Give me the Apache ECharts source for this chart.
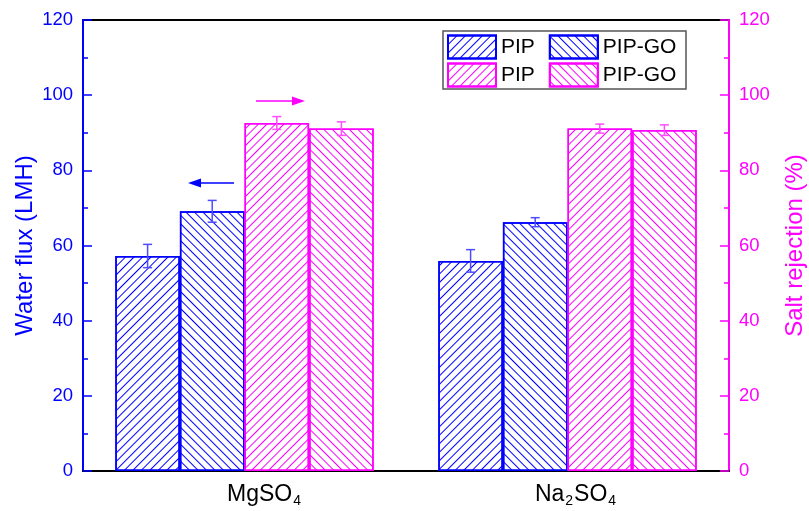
<!DOCTYPE html>
<html><head><meta charset="utf-8">
<script src="https://cdn.jsdelivr.net/npm/echarts@6/dist/echarts.min.js"></script>
<style>html,body{margin:0;padding:0;background:#fff}#c{width:809px;height:511px}</style>
</head><body><div id="c"></div>
<script>
const categories = ['MgSO4', 'Na2SO4'];
const fluxPIP = [57.2, 55.9];
const fluxPIPErr = [3.1, 3.0];
const fluxPIPGO = [69.1, 66.2];
const fluxPIPGOErr = [2.9, 1.2];
const rejPIP = [92.6, 91.1];
const rejPIPErr = [1.7, 1.2];
const rejPIPGO = [91.1, 90.7];
const rejPIPGOErr = [1.8, 1.4];
const yTicks = [0, 20, 40, 60, 80, 100, 120];

const BLUE = '#0000ff', PINK = '#ff00ff';
const FONT = 'Liberation Sans, Arial, sans-serif';

function decal(color, dir) {
  return { symbol: 'rect', symbolSize: 1, dashArrayX: [1, 0], dashArrayY: [1, 4.2],
           rotation: dir * Math.PI / 4, color: color, backgroundColor: null };
}
function barSeries(name, data, color, dir, yIdx) {
  return { name: name, type: 'bar', yAxisIndex: yIdx, data: data, barGap: '0%', barCategoryGap: '20%',
    itemStyle: { color: '#fff', borderColor: color, borderWidth: 1.5, decal: decal(color, dir) },
    emphasis: { disabled: true } };
}
function errSeries(vals, errs, k, color, yIdx) {
  return { type: 'custom', yAxisIndex: yIdx, silent: true, z: 5,
    data: vals.map((v, i) => [i, v, errs[i]]),
    renderItem: function (params, api) {
      const c = api.value(0), v = api.value(1), e = api.value(2);
      const band = api.size([1, 0])[0];
      const bw = band * 0.8 / 4;
      const base = api.coord([c, v]);
      const cx = base[0] + (k - 1.5) * bw;
      const hi = api.coord([c, v + e])[1];
      const lo = api.coord([c, v - e])[1];
      const cap = 4.5;
      const st = { stroke: color, lineWidth: 1.5 };
      return { type: 'group', children: [
        { type: 'line', shape: { x1: cx, y1: hi, x2: cx, y2: lo }, style: st },
        { type: 'line', shape: { x1: cx - cap, y1: hi, x2: cx + cap, y2: hi }, style: st },
        { type: 'line', shape: { x1: cx - cap, y1: lo, x2: cx + cap, y2: lo }, style: st }
      ] };
    } };
}
function yAxis(pos, color, name) {
  return { type: 'value', position: pos, min: yTicks[0], max: yTicks[yTicks.length - 1], interval: 20,
    name: name, nameLocation: 'middle', nameRotate: 90, nameGap: pos === 'left' ? 46 : 54, nameMoveOverlap: false,
    nameTextStyle: { color: color, fontSize: 24, fontFamily: FONT },
    axisLine: { show: true, lineStyle: { color: color, width: 2 } },
    axisTick: { show: true, inside: true, length: 9, lineStyle: { color: color, width: 1.5 } },
    minorTick: { show: true, splitNumber: 2, length: 5, lineStyle: { color: color, width: 1.5 } },
    axisLabel: { color: color, fontSize: 18.5, fontFamily: FONT, margin: 10 },
    splitLine: { show: false } };
}

const chart = echarts.init(document.getElementById('c'), null, { renderer: 'canvas' });
chart.setOption({
  animation: false,
  backgroundColor: '#fff',
  grid: { left: 83, right: 80, top: 20, bottom: 40, containLabel: false, outerBoundsMode: 'none',
          show: true, borderColor: '#000', borderWidth: 2, backgroundColor: 'transparent' },
  xAxis: { type: 'category', data: categories,
    axisLine: { lineStyle: { color: '#000', width: 2 } }, axisTick: { show: false },
    axisLabel: { margin: 11, fontFamily: FONT,
      formatter: function (v) {
        if (v === 'MgSO4') return '{g1|}{a|MgSO}{s|4}';
        return '{g2|}{a|Na}{s|2}{a|SO}{s|4}';
      },
      rich: { a: { fontSize: 23, color: '#000', fontFamily: FONT, height: 26 },
              s: { fontSize: 14, color: '#000', fontFamily: FONT, padding: [12, 1, 0, 1] },
              g1: { width: 40 }, g2: { width: 17 } } } },
  yAxis: [yAxis('left', BLUE, 'Water flux (LMH)'), yAxis('right', PINK, 'Salt rejection (%)')],
  legend: [
    { data: ['PIP#f', 'PIP-GO#f'], left: 447, top: 34.5, padding: 0, itemWidth: 48, itemHeight: 23, itemGap: 14,
      icon: 'rect', selectedMode: false, formatter: n => n.split('#')[0],
      textStyle: { fontSize: 21, color: '#000', fontFamily: FONT } },
    { data: ['PIP#r', 'PIP-GO#r'], left: 447, top: 62.5, padding: 0, itemWidth: 48, itemHeight: 23, itemGap: 14,
      icon: 'rect', selectedMode: false, formatter: n => n.split('#')[0],
      textStyle: { fontSize: 21, color: '#000', fontFamily: FONT } }
  ],
  series: [
    barSeries('PIP#f', fluxPIP, BLUE, -1, 0),
    barSeries('PIP-GO#f', fluxPIPGO, BLUE, 1, 0),
    barSeries('PIP#r', rejPIP, PINK, -1, 1),
    barSeries('PIP-GO#r', rejPIPGO, PINK, 1, 1),
    errSeries(fluxPIP, fluxPIPErr, 0, '#4d4dff', 0),
    errSeries(fluxPIPGO, fluxPIPGOErr, 1, '#4d4dff', 0),
    errSeries(rejPIP, rejPIPErr, 2, '#ff4dff', 1),
    errSeries(rejPIPGO, rejPIPGOErr, 3, '#ff4dff', 1)
  ],
  graphic: [
    { type: 'rect', shape: { x: 443, y: 31, width: 243, height: 58 }, style: { fill: null, stroke: '#555', lineWidth: 1.5 }, z: 100 },
    { type: 'line', shape: { x1: 200, y1: 183, x2: 234, y2: 183 }, style: { stroke: BLUE, lineWidth: 1.5 } },
    { type: 'polygon', shape: { points: [[188, 183], [201, 178.5], [201, 187.5]] }, style: { fill: BLUE } },
    { type: 'line', shape: { x1: 256, y1: 101, x2: 293, y2: 101 }, style: { stroke: PINK, lineWidth: 1.5 } },
    { type: 'polygon', shape: { points: [[305, 101], [292, 96.5], [292, 105.5]] }, style: { fill: PINK } }
  ]
});
</script></body></html>
